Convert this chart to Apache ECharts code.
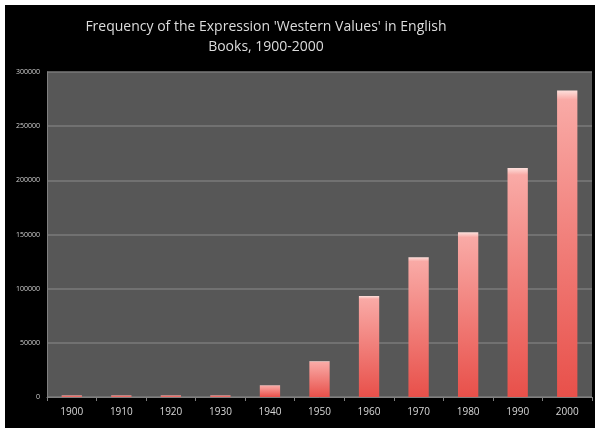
<!DOCTYPE html>
<html>
<head>
<meta charset="utf-8">
<script src="https://cdn.jsdelivr.net/npm/echarts@6/dist/echarts.min.js"></script>
<style>
html,body{margin:0;padding:0;background:#ffffff;}
#chart{position:absolute;left:5px;top:5px;width:590px;height:423px;background:#000;}
</style>
</head>
<body>
<div id="chart"></div>
<script>
const titleText = "Frequency of the Expression 'Western Values' in English\nBooks, 1900-2000";
const categories = ['1900','1910','1920','1930','1940','1950','1960','1970','1980','1990','2000'];
const frequency = [1500, 1500, 1500, 1500, 10800, 33000, 93300, 129100, 152000, 211400, 283000];
const yTicks = [0, 50000, 100000, 150000, 200000, 250000, 300000];

const chart = echarts.init(document.getElementById('chart'));
chart.setOption({
  backgroundColor: '#000',
  animation: false,
  graphic: [{
    type: 'text',
    x: 261,
    y: 12,
    style: {
      text: titleText,
      fill: '#dcdcdc',
      fontSize: 14,
      fontFamily: 'Open Sans',
      lineHeight: 20,
      align: 'center',
      verticalAlign: 'top'
    }
  }],
  grid: {left: 42, top: 67, right: 3, bottom: 31, show: true, backgroundColor: '#575757', borderWidth: 0},
  xAxis: {
    type: 'category',
    data: categories,
    axisLine: {show: true, lineStyle: {color: '#808080', width: 1}},
    axisTick: {show: true, length: 4, lineStyle: {color: '#808080'}},
    axisLabel: {color: '#d8d8d8', fontSize: 10, margin: 10, fontFamily: 'Open Sans'}
  },
  yAxis: {
    type: 'value',
    min: yTicks[0],
    max: yTicks[yTicks.length - 1],
    interval: 50000,
    axisLine: {show: true, lineStyle: {color: '#808080'}},
    axisTick: {show: false},
    splitLine: {lineStyle: {color: '#7a7a7a', width: 1.5}},
    axisLabel: {color: '#cfcfcf', fontSize: 7, margin: 7, fontFamily: 'Open Sans', formatter: v => String(v)}
  },
  series: [{
    type: 'bar',
    data: frequency,
    barWidth: '41%',
    itemStyle: {
      color: new echarts.graphic.LinearGradient(0, 0, 0, 1, [
        {offset: 0, color: '#fde0dc'},
        {offset: 0.03, color: '#f9aaa6'},
        {offset: 1, color: '#e8504a'}
      ])
    }
  }]
});
</script>
</body>
</html>
